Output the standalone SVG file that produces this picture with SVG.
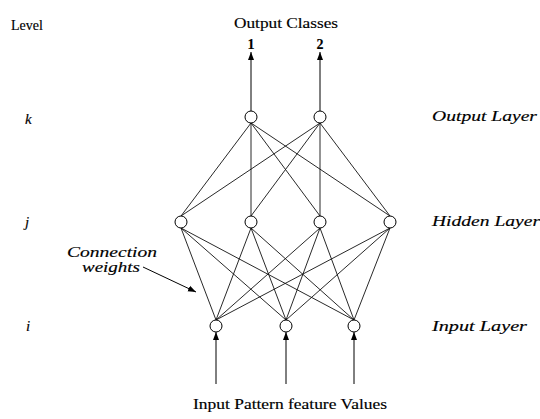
<svg xmlns="http://www.w3.org/2000/svg" width="540" height="419" viewBox="0 0 540 419">
  <style>
    .t { font-family: "Liberation Serif", "DejaVu Serif", serif; font-size: 14px; fill: #000; stroke: #000; stroke-width: 0.15; }
    .it { font-style: italic; }
    .var { font-size: 15px; }
    .node { fill: #fff; stroke: #000; stroke-width: 1; }
    .w { stroke: #111; stroke-width: 0.9; fill: none; }
    .arr { stroke: #000; stroke-width: 1; fill: none; marker-end: url(#head); }
  </style>
  <defs>
    <marker id="head" viewBox="0 0 8 10" refX="8" refY="5" markerWidth="8" markerHeight="10" markerUnits="userSpaceOnUse" orient="auto">
      <path d="M0,2 L8,5 L0,8 Z" fill="#000"/>
    </marker>
  </defs>
  <rect width="540" height="419" fill="#fff"/>

  <!-- level labels -->
  <text class="t" x="11" y="30" font-size="12.5">Level</text>
  <text class="t it var" x="25" y="124">k</text>
  <text class="t it var" x="25" y="227">j</text>
  <text class="t it var" x="26" y="331">i</text>

  <!-- layer names -->
  <text class="t it" x="432" y="121" textLength="105" lengthAdjust="spacingAndGlyphs">Output Layer</text>
  <text class="t it" x="432" y="226" textLength="108" lengthAdjust="spacingAndGlyphs">Hidden Layer</text>
  <text class="t it" x="432" y="331" textLength="95" lengthAdjust="spacingAndGlyphs">Input Layer</text>

  <!-- titles -->
  <text class="t" x="234" y="28" textLength="104" lengthAdjust="spacingAndGlyphs">Output Classes</text>
  <text class="t" x="251" y="49" text-anchor="middle" font-weight="bold">1</text>
  <text class="t" x="320" y="49" text-anchor="middle" font-weight="bold">2</text>
  <text class="t" x="193" y="409" textLength="194" lengthAdjust="spacingAndGlyphs">Input Pattern feature Values</text>

  <!-- annotation -->
  <text class="t it" x="67" y="257" textLength="90" lengthAdjust="spacingAndGlyphs">Connection</text>
  <text class="t it" x="82" y="272" textLength="58" lengthAdjust="spacingAndGlyphs">weights</text>

  <g id="connectors">
    <!-- output arrows -->
    <line class="arr" x1="251" y1="111" x2="251" y2="52"/>
    <line class="arr" x1="320" y1="111" x2="320" y2="52"/>
    <!-- input arrows -->
    <line class="arr" x1="216" y1="384" x2="216" y2="332"/>
    <line class="arr" x1="286" y1="384" x2="286" y2="332"/>
    <line class="arr" x1="354" y1="384" x2="354" y2="332"/>
    <!-- annotation arrow -->
    <line class="arr" x1="143" y1="267" x2="196" y2="292"/>
    <!-- hidden to output -->
    <path class="w" d="M181,216 L251,123 M251,216 L251,123 M320,216 L251,123 M390,216 L251,123
                       M181,216 L320,123 M251,216 L320,123 M320,216 L320,123 M390,216 L320,123"/>
    <!-- input to hidden -->
    <path class="w" d="M216,320 L181,228 M216,320 L251,228 M216,320 L320,228 M216,320 L390,228
                       M286,320 L181,228 M286,320 L251,228 M286,320 L320,228 M286,320 L390,228
                       M354,320 L181,228 M354,320 L251,228 M354,320 L320,228 M354,320 L390,228"/>
  </g>

  <g id="out1"><circle class="node" cx="251" cy="117" r="6"/></g>
  <g id="out2"><circle class="node" cx="320" cy="117" r="6"/></g>
  <g id="hid1"><circle class="node" cx="181" cy="222" r="6"/></g>
  <g id="hid2"><circle class="node" cx="251" cy="222" r="6"/></g>
  <g id="hid3"><circle class="node" cx="320" cy="222" r="6"/></g>
  <g id="hid4"><circle class="node" cx="390" cy="222" r="6"/></g>
  <g id="in1"><circle class="node" cx="216" cy="326" r="6"/></g>
  <g id="in2"><circle class="node" cx="286" cy="326" r="6"/></g>
  <g id="in3"><circle class="node" cx="354" cy="326" r="6"/></g>
</svg>
